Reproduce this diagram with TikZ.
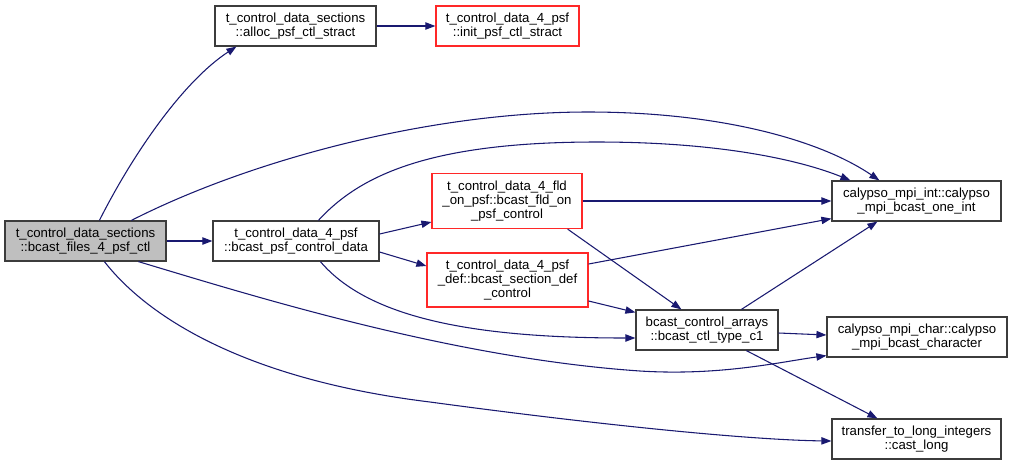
\documentclass[tikz,border=0pt]{standalone}
\usepackage{fontspec}
\setmainfont{Liberation Sans}
\usetikzlibrary{arrows.meta,calc}
\definecolor{edgeblue}{RGB}{25,25,112}
\definecolor{boxgray}{RGB}{191,191,191}
\definecolor{boxline}{RGB}{60,60,60}
\definecolor{boxred}{RGB}{255,40,40}
\begin{document}
\begin{tikzpicture}[x=0.75pt,y=-0.75pt,
  fn/.style={draw=boxline,line width=0.9pt,fill=white,inner sep=0pt,align=center,
    font=\fontsize{9.9}{10.7}\selectfont},
  trunc/.style={fn,draw=boxred},
  cur/.style={fn,fill=boxgray},
  call/.style={draw=edgeblue,line width=0.8pt,-{Triangle[length=7.5pt,width=5.5pt]}}]
\useasboundingbox (0,0) rectangle (1012,465);
\node[cur,minimum width=161*0.75pt,minimum height=40*0.75pt] (n1) at (85.5,241) {t\_control\_data\_sections\\::bcast\_files\_4\_psf\_ctl};
\node[fn,minimum width=161*0.75pt,minimum height=40*0.75pt] (n2) at (295.5,26) {t\_control\_data\_sections\\::alloc\_psf\_ctl\_stract};
\node[trunc,minimum width=143*0.75pt,minimum height=40*0.75pt] (n3) at (507.5,26) {t\_control\_data\_4\_psf\\::init\_psf\_ctl\_stract};
\node[fn,minimum width=166*0.75pt,minimum height=40*0.75pt] (n4) at (296,241) {t\_control\_data\_4\_psf\\::bcast\_psf\_control\_data};
\node[trunc,minimum width=150*0.75pt,minimum height=55*0.75pt] (n5) at (507,201) {t\_control\_data\_4\_fld\\\_on\_psf::bcast\_fld\_on\\\_psf\_control};
\node[trunc,minimum width=161*0.75pt,minimum height=54*0.75pt] (n6) at (507.5,280) {t\_control\_data\_4\_psf\\\_def::bcast\_section\_def\\\_control};
\node[fn,minimum width=169*0.75pt,minimum height=40*0.75pt] (n7) at (916.5,201) {calypso\_mpi\_int::calypso\\\_mpi\_bcast\_one\_int};
\node[fn,minimum width=142*0.75pt,minimum height=40*0.75pt] (n8) at (707,330) {bcast\_control\_arrays\\::bcast\_ctl\_type\_c1};
\node[fn,minimum width=180*0.75pt,minimum height=40*0.75pt] (n9) at (917,337) {calypso\_mpi\_char::calypso\\\_mpi\_bcast\_character};
\node[fn,minimum width=169*0.75pt,minimum height=40*0.75pt] (n10) at (916.5,439) {transfer\_to\_long\_integers\\::cast\_long};
% edges
\draw[call] ($(n1.north west)+(95,0)$) .. controls (135,150) and (185,80) .. ($(n2.south west)+(22,0)$);
\draw[call] (n1.east) -- (n4.west);
\draw[call] ($(n1.north west)+(127,0)$) .. controls (250,160) and (430,112) .. (588,112) .. controls (720,112) and (820,140) .. ($(n7.north west)+(48,0)$);
\draw[call] ($(n1.south west)+(134,0)$) .. controls (250,295) and (450,358) .. (640,371) .. controls (720,376) and (780,362) .. ($(n9.south west)+(0,-2)$);
\draw[call] ($(n1.south west)+(100,0)$) .. controls (150,320) and (250,380) .. (430,402) .. controls (600,425) and (750,440) .. ($(n10.west)+(0,2)$);
\draw[call] (n2.east) -- (n3.west);
\draw[call] ($(n4.east)+(0,-7)$) -- ($(n5.west)+(0,21)$);
\draw[call] ($(n4.east)+(0,11)$) -- ($(n6.west)+(0,-14)$);
\draw[call] ($(n4.north west)+(106,0)$) .. controls (360,175) and (430,142) .. (597,142) .. controls (720,142) and (800,160) .. ($(n7.north west)+(19,0)$);
\draw[call] ($(n4.south west)+(108,0)$) .. controls (370,320) and (480,338) .. ($(n8.west)+(0,8)$);
\draw[call] (n5.east) -- (n7.west);
\draw[call] ($(n5.south east)+(-15,0)$) -- ($(n8.north west)+(46,0)$);
\draw[call] ($(n6.east)+(0,-16)$) -- ($(n7.south west)+(0,-3)$);
\draw[call] ($(n6.east)+(0,21)$) -- ($(n8.north west)+(0,3)$);
\draw[call] ($(n8.north west)+(106,0)$) -- ($(n7.south west)+(46,0)$);
\draw[call] ($(n8.east)+(0,3)$) -- ($(n9.west)+(0,-2)$);
\draw[call] ($(n8.south west)+(111,0)$) -- ($(n10.north west)+(46,0)$);
\end{tikzpicture}
\end{document}
